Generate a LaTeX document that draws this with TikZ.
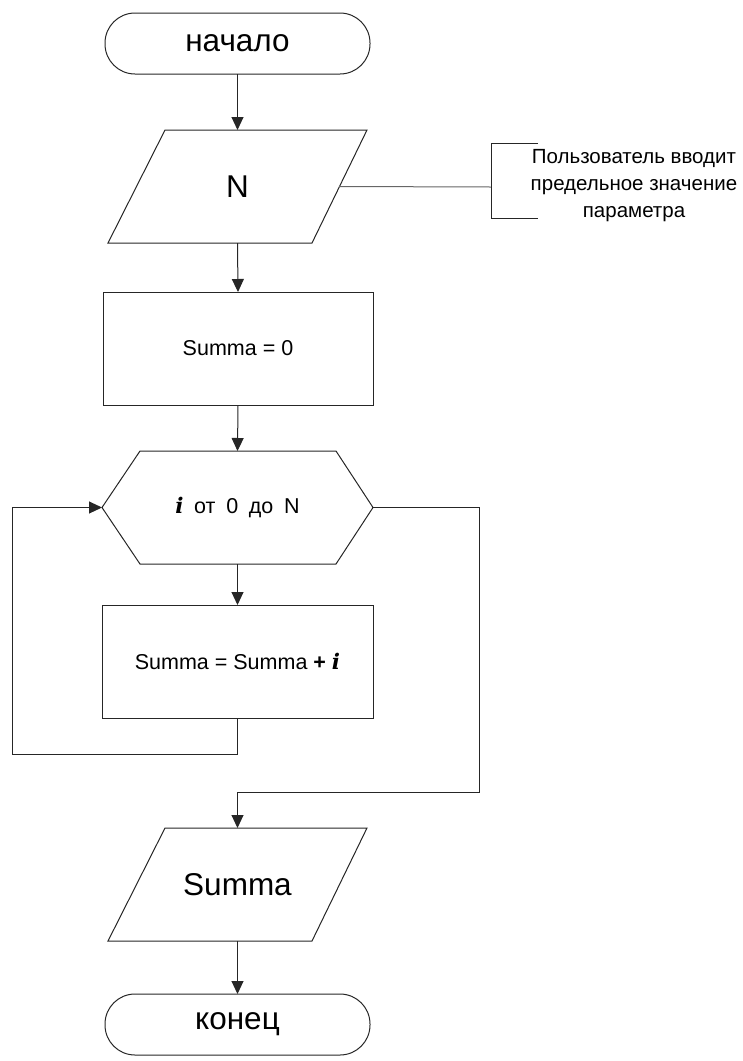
\documentclass[tikz,border=0pt]{standalone}
\usepackage{fontspec}
\setsansfont{Liberation Sans}
\newfontfamily\varfont{DejaVu Serif}
\usetikzlibrary{arrows.meta,calc}
\newcommand{\vari}{{\varfont\bfseries\itshape i}}
\begin{document}
\begin{tikzpicture}[x=1pt,y=-1pt,
  box/.style={draw=none,inner sep=0pt,outer sep=0pt,
    font=\sffamily\fontsize{21.5}{26}\selectfont},
  big/.style={font=\sffamily\fontsize{31.5}{36}\selectfont},
  outline/.style={draw=black!85,line width=1pt},
  flow/.style={draw=black!85,line width=1pt,-{Triangle[length=13pt,width=12pt]}},
  wire/.style={draw=black!85,line width=1pt},
  note/.style={draw=black!60,line width=1pt},
]
\useasboundingbox (0,0) rectangle (743,1061);

% start terminal
\node[box,big,outline,rounded corners=30pt,minimum width=265pt,minimum height=61pt]
  (start) at (237.5,43.5) {начало};

% input N (parallelogram drawn around an invisible box)
\node[box,big,minimum width=259pt,minimum height=113pt] (in) at (237.5,186.5) {N};
\draw[outline] ($(in.north west)+(57,0)$) -- (in.north east)
  -- ($(in.south east)+(-55,0)$) -- (in.south west) -- cycle;

% initialisation
\node[box,outline,minimum width=270pt,minimum height=113pt] (init) at (238,348.5) {Summa = 0};

% loop header (hexagon)
\node[box,minimum width=271pt,minimum height=113pt] (hex) at (237.5,507.5)
  {\vari\enspace от\enspace 0\enspace до\enspace N};
\draw[outline] (hex.west) -- ($(hex.north west)+(38,0)$) -- ($(hex.north east)+(-37,0)$)
  -- (hex.east) -- ($(hex.south east)+(-37,0)$) -- ($(hex.south west)+(38,0)$) -- cycle;

% loop body
\node[box,outline,minimum width=271pt,minimum height=113pt] (body) at (237.5,661.5)
  {Summa = Summa \textbf{+} \vari};

% output Summa
\node[box,big,minimum width=259pt,minimum height=113pt] (out) at (237.5,884.5) {Summa};
\draw[outline] ($(out.north west)+(57,0)$) -- (out.north east)
  -- ($(out.south east)+(-55,0)$) -- (out.south west) -- cycle;

% end terminal
\node[box,big,outline,rounded corners=30pt,minimum width=265pt,minimum height=61pt]
  (stop) at (237.5,1024.5) {конец};

% comment with its bracket
\node[box,align=center,font=\sffamily\fontsize{20.5}{27}\selectfont] (cmt) at (634,186)
  {Пользователь вводит\\предельное значение\\параметра};
\coordinate (brkT) at (538,143);
\coordinate (brkTL) at (491,143);
\coordinate (brkM) at (491,187);
\coordinate (brkBL) at (491,218);
\coordinate (brkB) at (538,218);
\draw[note] ($(in.east)+(-28,0)$) -- (brkM);
\draw[wire] (brkT) -- (brkTL) -- (brkBL) -- (brkB);

% loop routing points
\coordinate (loopL) at (12,754);
\coordinate (exitR) at (479,792);

% connectors
\draw[flow] (start.south) -- (in.north);
\draw[flow] (in.south) -- (init.north);
\draw[flow] (init.south) -- (hex.north);
\draw[flow] (hex.south) -- (body.north);
\draw[flow] (body.south) |- (loopL) |- (hex.west);
\draw[flow] (hex.east) -| (exitR) -| (out.north);
\draw[flow] (out.south) -- (stop.north);
\end{tikzpicture}
\end{document}
